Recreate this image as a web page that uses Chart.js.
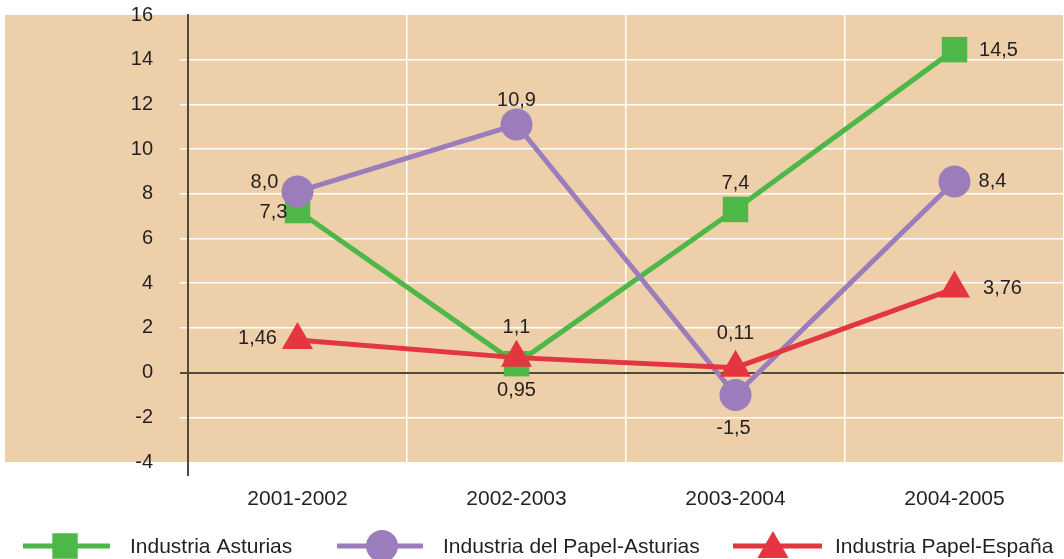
<!DOCTYPE html>
<html>
<head>
<meta charset="utf-8">
<script src="https://cdn.jsdelivr.net/npm/chart.js@4.4.1/dist/chart.umd.min.js"></script>
<style>
  html, body { margin: 0; padding: 0; background: #fff; overflow: hidden; }
  canvas { display: block; }
</style>
</head>
<body>
<canvas id="chart" width="1064" height="559"></canvas>
<script>
// categorías
const periods = ['2001-2002', '2002-2003', '2003-2004', '2004-2005'];
const yTicks = [-4, -2, 0, 2, 4, 6, 8, 10, 12, 14, 16];

// series
const industriaAsturias = [7.25, 0.4, 7.3, 14.45];
const papelAsturias     = [8.1, 11.1, -1.0, 8.55];
const papelEspana       = [1.46, 0.67, 0.22, 3.76];

// etiquetas impresas junto a cada punto
const lblAsturias = ['7,3', '0,95', '7,4', '14,5'];
const lblPapelAst = ['8,0', '10,9', '-1,5', '8,4'];
const lblPapelEsp = ['1,46', '1,1', '0,11', '3,76'];

// desplazamiento de etiquetas (px) respecto al punto
const offAsturias = [[-24, 2], [0, 27], [0, -26], [44, 1]];
const offPapelAst = [[-33, -9], [0, -24], [-2, 34], [38, 0]];
const offPapelEsp = [[-40, -1], [0, -30], [0, -34], [48, 0]];

const COLORS = {
  green: '#4DB848',
  purple: '#9A7DBA',
  red: '#E3363F',
  bg: '#EDCFA9',
  axis: '#54483C',
  text: '#231F20',
};
const FONT = "'Liberation Sans', Arial, sans-serif";

const series = [
  { label: 'Industria Asturias', data: industriaAsturias, color: COLORS.green, style: 'rect', radius: 18, labels: lblAsturias, offs: offAsturias, order: 2 },
  { label: 'Industria del Papel-Asturias', data: papelAsturias, color: COLORS.purple, style: 'circle', radius: 16, labels: lblPapelAst, offs: offPapelAst, order: 1 },
  { label: 'Industria Papel-España', data: papelEspana, color: COLORS.red, style: 'triangle', radius: 18, labels: lblPapelEsp, offs: offPapelEsp, order: 0 },
];

// fondo tostado detrás del área del gráfico y la prolongación del eje
const bgPlugin = {
  id: 'bgPlugin',
  beforeDraw(chart) {
    const { ctx, chartArea: a } = chart;
    ctx.save();
    ctx.fillStyle = COLORS.bg;
    ctx.fillRect(5, a.top, a.right - 5, a.bottom - a.top);
    ctx.restore();
  },
  afterDraw(chart) {
    const { ctx, chartArea: a } = chart;
    ctx.save();
    ctx.strokeStyle = COLORS.axis;
    ctx.lineWidth = 2;
    ctx.beginPath();
    ctx.moveTo(a.left, a.bottom);
    ctx.lineTo(a.left, a.bottom + 14);
    ctx.stroke();
    ctx.restore();
  },
};

// etiquetas de valores
const valueLabels = {
  id: 'valueLabels',
  afterDatasetsDraw(chart) {
    const { ctx } = chart;
    ctx.save();
    ctx.font = `20px ${FONT}`;
    ctx.fillStyle = COLORS.text;
    ctx.textAlign = 'center';
    ctx.textBaseline = 'middle';
    series.forEach((s, i) => {
      const meta = chart.getDatasetMeta(i);
      meta.data.forEach((pt, j) => {
        const [dx, dy] = s.offs[j];
        ctx.fillText(s.labels[j], pt.x + dx, pt.y + dy);
      });
    });
    ctx.restore();
  },
};

// leyenda inferior: línea con marcador
const legendItems = [
  { x0: 23, x1: 110, mx: 65, tx: 130 },
  { x0: 337, x1: 423, mx: 382, tx: 443 },
  { x0: 733, x1: 822, mx: 773, tx: 835 },
];
const customLegend = {
  id: 'customLegend',
  afterDraw(chart) {
    const { ctx } = chart;
    const y = 546;
    ctx.save();
    series.forEach((s, i) => {
      const it = legendItems[i];
      ctx.strokeStyle = s.color;
      ctx.lineWidth = 5;
      ctx.beginPath();
      ctx.moveTo(it.x0, y);
      ctx.lineTo(it.x1, y);
      ctx.stroke();
      ctx.fillStyle = s.color;
      Chart.helpers.drawPoint(ctx, { pointStyle: s.style, radius: s.radius, borderWidth: 0 }, it.mx, y + (s.style === 'triangle' ? 3 : 0));
      ctx.font = `21px ${FONT}`;
      ctx.fillStyle = COLORS.text;
      ctx.textAlign = 'left';
      ctx.textBaseline = 'middle';
      ctx.fillText(s.label, it.tx, y + 1);
    });
    ctx.restore();
  },
};

new Chart(document.getElementById('chart'), {
  type: 'line',
  data: {
    labels: periods,
    datasets: series.map(s => ({
      label: s.label,
      data: s.data,
      order: s.order,
      borderColor: s.color,
      backgroundColor: s.color,
      borderWidth: 5,
      pointStyle: s.style,
      pointRadius: s.radius,
      pointBackgroundColor: s.color,
      pointBorderWidth: 0,
      tension: 0,
    })),
  },
  options: {
    responsive: false,
    animation: false,
    devicePixelRatio: 1,
    layout: { autoPadding: false, padding: { left: 5, right: 0, top: 15, bottom: 0 } },
    plugins: {
      legend: { display: false },
      title: { display: false },
      tooltip: { enabled: false },
    },
    scales: {
      x: {
        offset: true,
        grid: {
          offset: true,
          color: '#FFFFFF',
          lineWidth: 1.5,
          drawTicks: false,
        },
        border: { display: false },
        ticks: { color: COLORS.text, font: { family: FONT, size: 21 }, padding: 25 },
        afterFit: s => { s.height = 97; s.paddingLeft = 0; s.paddingRight = 0; },
      },
      y: {
        min: -4,
        max: 16,
        afterBuildTicks: s => { s.ticks = yTicks.map(v => ({ value: v })); },
        grid: {
          color: c => (c.tick && c.tick.value === 0 ? COLORS.axis : (c.tick && (c.tick.value === 16 || c.tick.value === -4) ? 'rgba(0,0,0,0)' : '#FFFFFF')),
          lineWidth: c => (c.tick && c.tick.value === 0 ? 2 : 1.5),
          tickLength: 8,
        },
        border: { color: COLORS.axis, width: 2 },
        ticks: { color: COLORS.text, font: { family: FONT, size: 20 }, padding: 27 },
        afterFit: s => { s.width = 183; s.paddingTop = 0; s.paddingBottom = 0; },
      },
    },
  },
  plugins: [bgPlugin, valueLabels, customLegend],
});
</script>
</body>
</html>
